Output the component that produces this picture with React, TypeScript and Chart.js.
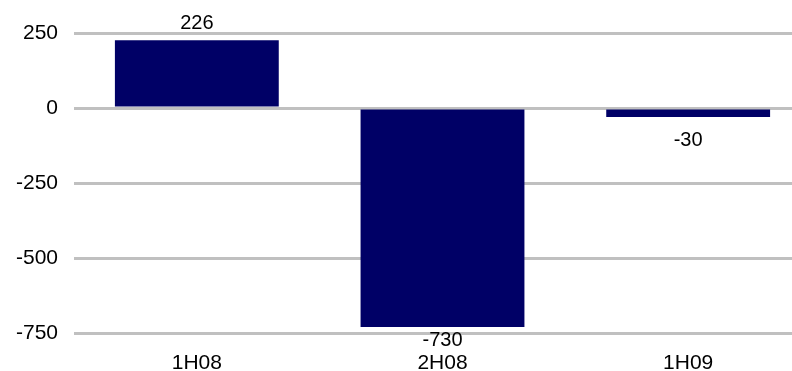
import React, { useEffect, useRef } from "react";
import { Chart, registerables } from "chart.js";

Chart.register(...registerables);

const categories = ["1H08", "2H08", "1H09"];
const values = [226, -730, -30];
const yMin = -750;
const yMax = 250;
const yStep = 250;

const FONT = "'Liberation Sans', Arial, sans-serif";

const valueLabels = {
  id: "valueLabels",
  afterDatasetsDraw(chart: any) {
    const ctx = chart.ctx;
    const meta = chart.getDatasetMeta(0);
    const bottom = chart.chartArea.bottom;
    ctx.save();
    ctx.font = `20px ${FONT}`;
    ctx.fillStyle = "#000000";
    ctx.textAlign = "center";
    ctx.textBaseline = "alphabetic";
    meta.data.forEach((bar: any, i: number) => {
      const v = chart.data.datasets[0].data[i] as number;
      const y = v >= 0 ? bar.y - 11 : Math.min(bar.y + 29, bottom + 13);
      ctx.fillText(String(v), bar.x, y);
    });
    ctx.restore();
  },
};

export default function App() {
  const ref = useRef<HTMLCanvasElement | null>(null);
  useEffect(() => {
    if (!ref.current) return;
    const chart = new Chart(ref.current, {
      type: "bar",
      data: {
        labels: categories,
        datasets: [
          {
            data: values,
            backgroundColor: "#000066",
            borderWidth: 0,
            categoryPercentage: 1,
            barPercentage: 0.667,
          },
        ],
      },
      plugins: [valueLabels],
      options: {
        animation: false,
        responsive: false,
        maintainAspectRatio: false,
        layout: { padding: { top: 33, right: 1, left: 0, bottom: 0 } },
        plugins: { legend: { display: false }, tooltip: { enabled: false } },
        scales: {
          x: {
            grid: { display: false, drawTicks: false },
            border: { display: false },
            ticks: { color: "#000000", font: { family: FONT, size: 21 }, padding: 18 },
            afterFit(scale: any) {
              scale.height = 38;
            },
          },
          y: {
            min: yMin,
            max: yMax,
            grid: { color: "#c0c0c0", lineWidth: 3, drawTicks: false },
            border: { display: false },
            ticks: {
              stepSize: yStep,
              color: "#000000",
              font: { family: FONT, size: 21 },
              padding: 16,
            },
            afterFit(scale: any) {
              scale.width = 74;
            },
          },
        },
      },
    });
    return () => chart.destroy();
  }, []);
  return (
    <div
      style={{
        position: "fixed",
        left: 0,
        top: 0,
        width: 792,
        height: 371,
        overflow: "hidden",
        background: "#ffffff",
      }}
    >
      <canvas ref={ref} width={812} height={371} style={{ display: "block" }} />
    </div>
  );
}
